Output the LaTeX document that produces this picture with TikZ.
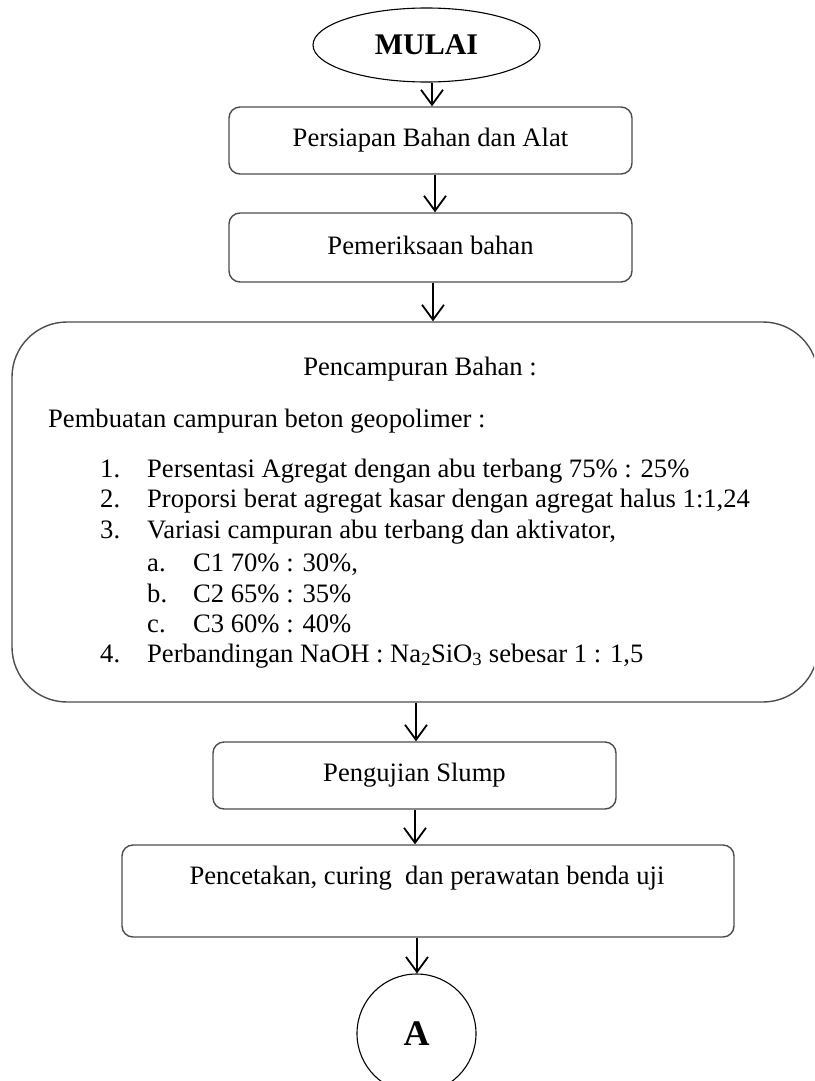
\documentclass[tikz,border=0pt]{standalone}
\usepackage{fontspec}
\setmainfont{Liberation Serif}
\usetikzlibrary{shapes.geometric,arrows.meta}
\tikzset{
  box/.style={draw=black!70, line width=1.4pt, rounded corners=11pt, inner sep=0pt},
  arr/.style={draw=black, line width=1.8pt, -{Straight Barb[length=15pt,width=22pt,line width=1.8pt]}},
  txt/.style={inner sep=0pt, font=\fontsize{26.6}{31}\selectfont},
  ltxt/.style={txt, anchor=base west},
}
\begin{document}
\begin{tikzpicture}[x=1pt,y=-1pt]
\useasboundingbox (0,0) rectangle (814,1081);
\clip (0,0) rectangle (814,1081);
% start
\node[ellipse, draw=black, line width=1.1pt, minimum width=227pt, minimum height=74pt, inner sep=0pt,
      font=\fontsize{30}{34}\selectfont\bfseries] (mulai) at (426.5,45) {MULAI};
% boxes
\node[box, minimum width=403pt, minimum height=67pt, font=\fontsize{26.6}{31}\selectfont] (b1) at (430.5,140.5) {\raisebox{2pt}{Persiapan Bahan dan Alat}};
\node[box, minimum width=403pt, minimum height=69pt, font=\fontsize{26.6}{31}\selectfont] (b2) at (430.5,247.5) {\raisebox{4pt}{Pemeriksaan bahan}};
\node[box, rounded corners=55pt, minimum width=806pt, minimum height=380pt] (big) at (415,512) {};
\node[box, minimum width=403pt, minimum height=67pt, font=\fontsize{26.6}{31}\selectfont] (slump) at (414.5,775.5) {\raisebox{2pt}{Pengujian Slump}};
\node[box, minimum width=612pt, minimum height=92pt] (pen) at (428,891) {};
\node[circle, draw=black, line width=1.1pt, minimum size=119pt, inner sep=0pt,
      font=\fontsize{36}{40}\selectfont\bfseries] (A) at (416.5,1033.5) {A};
% texts
\node[txt, anchor=base] (pentxt) at (427,884) {Pencetakan, curing\ \ dan perawatan benda uji};
\node[txt, anchor=base] (pc) at (420,375) {Pencampuran Bahan :};
\node[ltxt] (pb) at (48,427) {Pembuatan campuran beton geopolimer :};
\node[ltxt] (n1) at (100,477) {1.};
\node[ltxt] (t1) at (147,477) {Persentasi Agregat dengan abu terbang 75\% : 25\%};
\node[ltxt] (n2) at (100,507) {2.};
\node[ltxt] (t2) at (147,507) {Proporsi berat agregat kasar dengan agregat halus 1:1,24};
\node[ltxt] (n3) at (100,538) {3.};
\node[ltxt] (t3) at (147,538) {Variasi campuran abu terbang dan aktivator,};
\node[ltxt] (la) at (147,571) {a.};
\node[ltxt] (ta) at (193,571) {C1 70\% : 30\%,};
\node[ltxt] (lb) at (147,602) {b.};
\node[ltxt] (tb) at (193,602) {C2 65\% : 35\%};
\node[ltxt] (lc) at (147,632) {c.};
\node[ltxt] (tc) at (193,632) {C3 60\% : 40\%};
\node[ltxt] (n4) at (100,662) {4.};
\node[ltxt] (t4) at (147,662) {Perbandingan NaOH : Na\textsubscript{2}SiO\textsubscript{3} sebesar 1 : 1,5};
% arrows
\coordinate (x1) at (432,0);
\coordinate (x2) at (435,0);
\coordinate (x3) at (433,0);
\coordinate (x4) at (416,0);
\coordinate (x5) at (415,0);
\coordinate (x6) at (417,0);
\draw[arr] (mulai.south -| x1) -- (b1.north -| x1);
\draw[arr] (b1.south -| x2) -- (b2.north -| x2);
\draw[arr] (b2.south -| x3) -- (big.north -| x3);
\draw[arr] (big.south -| x4) -- (slump.north -| x4);
\draw[arr] (slump.south -| x5) -- (pen.north -| x5);
\draw[arr] (pen.south -| x6) -- (A.north -| x6);
\end{tikzpicture}
\end{document}
